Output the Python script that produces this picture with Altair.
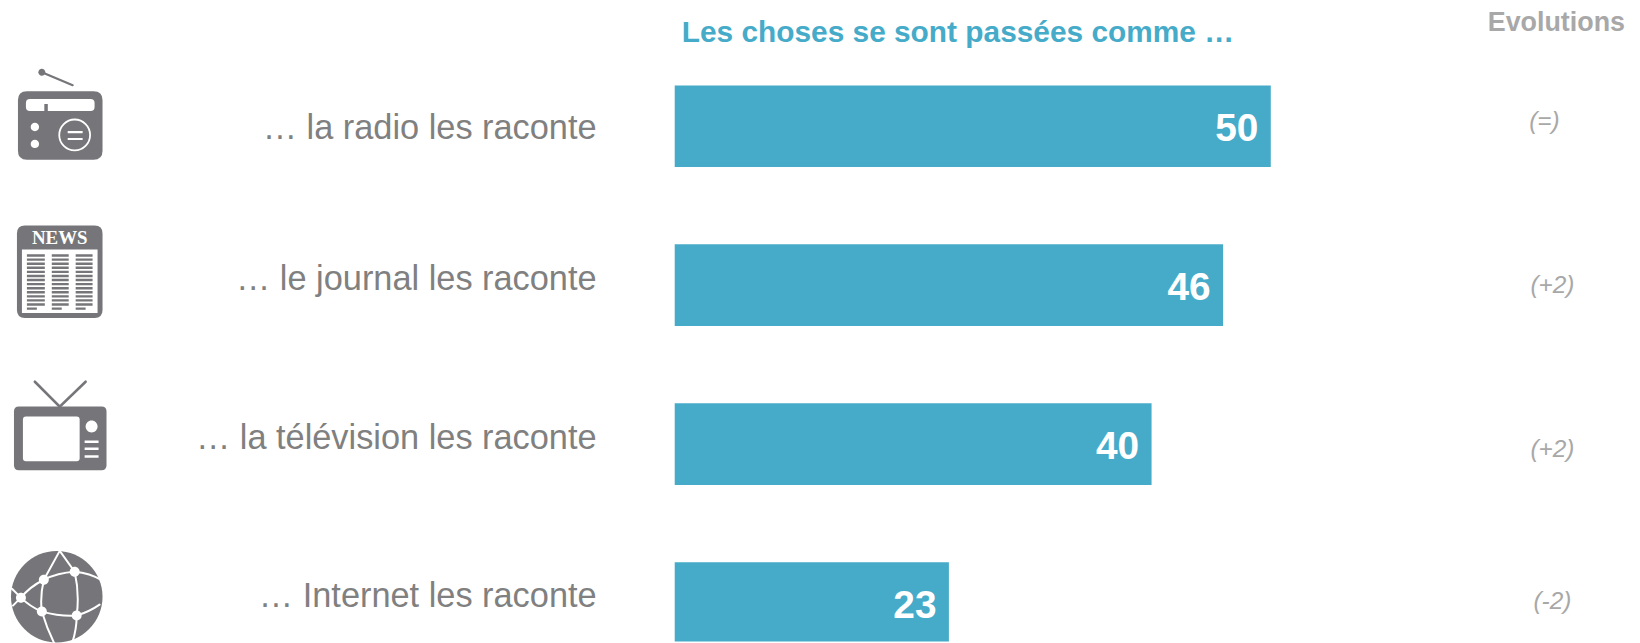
import altair as alt
import pandas as pd

# ---- data
labels = ["… la radio les raconte", "… le journal les raconte",
          "… la télévision les raconte", "… Internet les raconte"]
values = [50, 46, 40, 23]
evolutions = ["(=)", "(+2)", "(+2)", "(-2)"]
rows = [0, 1, 2, 3]
title_left = "Les choses se sont passées comme …"
title_right = "Evolutions"

# ---- layout constants
W, H = 1632, 635
X0, PXU = 670.0, 11.98
Y0, STEP = 114.0, 162.3
BLUE, GREY, LIGHT, ICON = "#46abc9", "#808080", "#a8a8a8", "#76767a"
FONT = "Liberation Sans"
x_scale = alt.Scale(domain=[-X0 / PXU, (W - X0) / PXU], range=[0, W])
y_scale = alt.Scale(domain=[-Y0 / STEP, (H - Y0) / STEP], range=[0, H])
X = alt.X("value:Q", scale=x_scale, axis=None, stack=None)
Y = alt.Y("row:Q", scale=y_scale, axis=None)

df = pd.DataFrame({"row": rows, "label": labels, "value": values, "evo": evolutions})

layers = []
layers.append(alt.Chart(df).mark_bar(orient="horizontal", size=82, color=BLUE, clip=True).encode(x=X, y=Y))
layers.append(alt.Chart(df).mark_text(align="right", baseline="middle", dx=-12.5, dy=3, font=FONT,
                                      fontWeight="bold", fontSize=39, color="white")
              .encode(x=X, y=Y, text="value:Q"))

label_dy = [2.6, -4.8, -5, -6.3]
evo_dy = [-4, 1.2, 5.9, -1.4]
evo_x = [1544, 1552, 1552, 1552]
for i in rows:
    one = df[df.row == i]
    layers.append(alt.Chart(one).mark_text(align="right", baseline="middle", dy=label_dy[i], font=FONT,
                                           fontSize=34.5, color=GREY)
                  .encode(x=alt.value(591.5), y=Y, text="label:N"))
    layers.append(alt.Chart(one).mark_text(align="center", baseline="middle", dy=evo_dy[i], font=FONT,
                                           fontSize=24.5, fontStyle="italic", color=LIGHT)
                  .encode(x=alt.value(evo_x[i]), y=Y, text="evo:N"))

heads = pd.DataFrame({"t": [title_left]})
layers.append(alt.Chart(heads).mark_text(align="left", baseline="middle", font=FONT, fontWeight="bold",
                                         fontSize=30, color=BLUE)
              .encode(x=alt.value(677), y=alt.value(24), text="t:N"))
heads2 = pd.DataFrame({"t": [title_right]})
layers.append(alt.Chart(heads2).mark_text(align="right", baseline="middle", font=FONT, fontWeight="bold",
                                          fontSize=27, color=LIGHT)
              .encode(x=alt.value(1625), y=alt.value(14), text="t:N"))

# ---- icons: drawn from SVG symbol paths (size=4 makes 1 path unit = 1 px)
def rr(x0, y0, x1, y1, r=0):
    x0, y0, x1, y1 = x0 - 8, y0 - 8, x1 - 8, y1 - 8
    return (f"M{x0+r},{y0}L{x1-r},{y0}Q{x1},{y0} {x1},{y0+r}L{x1},{y1-r}Q{x1},{y1} {x1-r},{y1}"
            f"L{x0+r},{y1}Q{x0},{y1} {x0},{y1-r}L{x0},{y0+r}Q{x0},{y0} {x0+r},{y0}Z")

def circ(cx, cy, r):
    cx, cy = cx - 8, cy - 8
    return f"M{cx-r},{cy}A{r},{r} 0 1 0 {cx+r},{cy}A{r},{r} 0 1 0 {cx-r},{cy}Z"

def poly(*pts):
    return "M" + "L".join(f"{x-8},{y-8}" for x, y in pts)

def curve(a, c, b):
    return f"M{a[0]-8},{a[1]-8}Q{c[0]-8},{c[1]-8} {b[0]-8},{b[1]-8}"

def fill(path, color):
    return alt.Chart(pd.DataFrame({"a": [0]})).mark_point(shape=path, size=4, filled=True, fill=color,
                                                          strokeWidth=0, opacity=1).encode(x=alt.value(0), y=alt.value(0))

def line(path, color, w):
    return alt.Chart(pd.DataFrame({"a": [0]})).mark_point(shape=path, size=4, filled=False, stroke=color,
                                                          strokeWidth=w, opacity=1, strokeCap="round").encode(x=alt.value(0), y=alt.value(0))

# radio
layers += [
    line(poly((42, 71), (73, 84)), ICON, 2.2), fill(circ(42, 71, 3.5), ICON),
    fill(rr(18, 90, 103, 159, 9), ICON), fill(rr(26, 98, 95, 110, 4), "white"),
    fill(rr(44.5, 103, 48, 112), ICON),
    fill(circ(35, 126, 4.2), "white"), fill(circ(35, 143, 4.2), "white"),
    line(circ(75, 134, 15.5), "white", 1.8),
    fill(rr(68, 130, 83, 132.2), "white"), fill(rr(68, 137, 83, 139.2), "white"),
]
# newspaper
news_lines = " ".join(rr(a, 254 + k * 4.1, b if k < 13 else a + 10, 256.4 + k * 4.1)
                      for a, b in [(27, 45), (52, 69), (76, 93)] for k in range(14))
layers += [fill(rr(17, 225, 103, 318, 8), ICON), fill(rr(22, 249, 98, 313), "white"), fill(news_lines, ICON)]
layers.append(alt.Chart(pd.DataFrame({"t": ["NEWS"]})).mark_text(align="center", baseline="middle",
              font="Liberation Serif", fontWeight="bold", fontSize=19, color="white")
              .encode(x=alt.value(52), y=alt.value(229.5), text="t:N"))
# television
layers += [
    line(poly((35, 382), (60, 407), (86, 382)), ICON, 2.6),
    fill(rr(14, 407, 107, 471, 5), ICON), fill(rr(23, 417, 80, 462, 3), "white"),
    fill(circ(92, 427, 6), "white"),
    fill(rr(85, 441, 99, 443.5), "white"), fill(rr(85, 448, 99, 450.5), "white"), fill(rr(85, 456, 99, 458.5), "white"),
]
# globe
n1, n2, n3, n4, n5 = (21, 599), (44, 581), (75, 573), (42, 613), (77, 617)
globe = " ".join([
    curve(n1, (30, 588), n2), curve(n2, (58, 574), n3), curve(n3, (90, 574), (103, 582)),
    curve(n1, (30, 608), n4), curve(n4, (60, 618), n5), curve(n5, (90, 613), (100, 606)),
    curve(n2, (40, 598), n4), curve(n3, (80, 595), n5), curve(n5, (77, 632), (72, 646)),
    poly((60, 552), n2), poly((60, 552), n3), curve(n4, (47, 630), (55, 646)),
    poly(n1, (12, 590)), poly(n1, (13, 607)),
])
layers += [fill(circ(57, 598, 46), ICON), line(globe, "white", 2.0)]
layers += [fill(circ(x, y, 5), "white") for x, y in [n1, n2, n3, n4, n5]]

chart = alt.layer(*layers).properties(
    width=W, height=H, padding=0, background="white",
    autosize=alt.AutoSizeParams(type="none"),
).configure_view(stroke=None)

chart.save("out.html", embed_options={"renderer": "svg", "actions": False})
